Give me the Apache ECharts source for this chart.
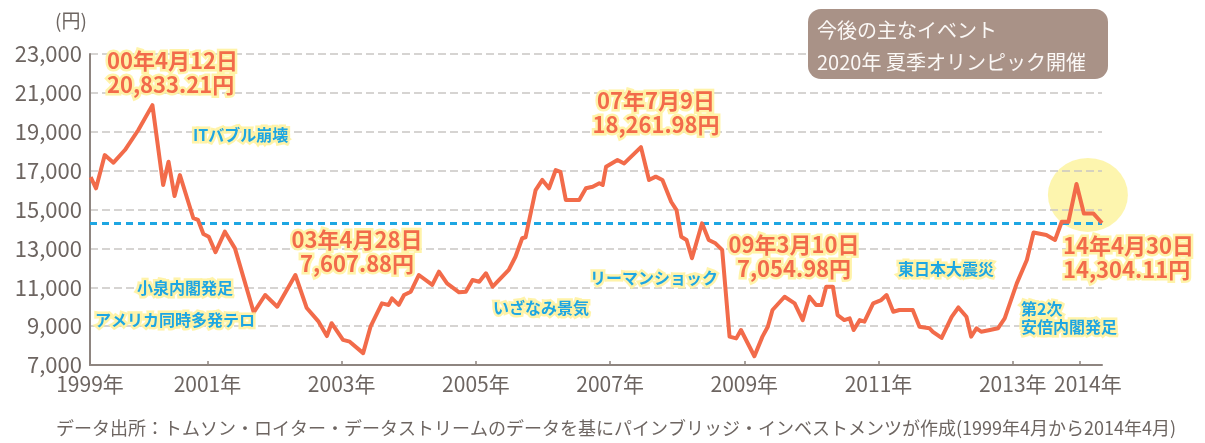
<!DOCTYPE html>
<html>
<head>
<meta charset="utf-8">
<script src="https://cdn.jsdelivr.net/npm/echarts@6/dist/echarts.min.js"></script>
<style>
  html, body { margin: 0; padding: 0; background: #fff; }
  #main { width: 1205px; height: 443px; }
</style>
</head>
<body>
<div id="main"></div>
<script>
// 日経平均の推移（1999年4月〜2014年4月）、年は小数で持つ
const dates = [
  1999.26, 1999.34, 1999.47, 1999.60, 1999.77, 1999.97, 2000.18, 2000.34, 2000.42, 2000.51,
  2000.59, 2000.79, 2000.86, 2000.94, 2001.02, 2001.12, 2001.26, 2001.41, 2001.69, 2001.86,
  2002.04, 2002.31, 2002.48, 2002.65, 2002.78, 2002.85, 2003.02, 2003.12, 2003.32, 2003.43,
  2003.60, 2003.70, 2003.75, 2003.85, 2003.93, 2004.03, 2004.15, 2004.35, 2004.45, 2004.57,
  2004.75, 2004.85, 2004.95, 2005.05, 2005.15, 2005.25, 2005.49, 2005.59, 2005.69, 2005.74,
  2005.89, 2005.99, 2006.09, 2006.19, 2006.26, 2006.34, 2006.54, 2006.64, 2006.74, 2006.84,
  2006.89, 2006.94, 2007.11, 2007.21, 2007.46, 2007.58, 2007.68, 2007.78, 2007.91, 2007.99,
  2008.06, 2008.14, 2008.22, 2008.37, 2008.47, 2008.57, 2008.67, 2008.78, 2008.88, 2008.95,
  2009.15, 2009.27, 2009.35, 2009.42, 2009.60, 2009.75, 2009.87, 2009.97, 2010.07, 2010.15,
  2010.22, 2010.32, 2010.39, 2010.49, 2010.57, 2010.63, 2010.72, 2010.79, 2010.92, 2011.04,
  2011.12, 2011.22, 2011.31, 2011.51, 2011.61, 2011.76, 2011.81, 2011.94, 2012.09, 2012.19,
  2012.31, 2012.38, 2012.46, 2012.53, 2012.66, 2012.78, 2012.88, 2013.06, 2013.21, 2013.31,
  2013.50, 2013.63, 2013.73, 2013.83, 2013.95, 2014.06, 2014.20, 2014.33
];
const prices = [
  16670, 16090, 17800, 17410, 18060, 19090, 20370, 16260, 17460, 15690,
  16770, 14550, 14460, 13740, 13600, 12800, 13860, 13000, 9700, 10600,
  10000, 11630, 9930, 9260, 8490, 9150, 8290, 8200, 7610, 8970,
  10170, 10090, 10430, 10090, 10600, 10770, 11630, 11120, 11800, 11200,
  10740, 10770, 11370, 11280, 11720, 11030, 11890, 12570, 13520, 13570,
  16000, 16520, 16090, 17030, 16940, 15490, 15490, 16090, 16170, 16350,
  16260, 17200, 17550, 17370, 18210, 16520, 16690, 16520, 15400, 14970,
  13600, 13430, 12490, 14290, 13430, 13260, 12920, 8460, 8370, 8800,
  7450, 8460, 8970, 9830, 10510, 10170, 9310, 10510, 10090, 10090,
  11030, 11030, 9570, 9310, 9400, 8800, 9310, 9230, 10170, 10340,
  10600, 9740, 9830, 9830, 8970, 8890, 8710, 8390, 9480, 9960,
  9480, 8460, 8890, 8710, 8800, 8890, 9400, 11200, 12400, 13820,
  13690, 13430, 14370, 14370, 16310, 14800, 14800, 14304.11
];
const currentLevel = 14304.11;
const highlight = [2014.12, 15750];
const yearTicks = [2001, 2003, 2005, 2007, 2009, 2011, 2013, 2014];
const yearLabels = [1999.25, 2001, 2003, 2005, 2007, 2009, 2011, 2013];
const lastYearLabel = [2014];

const FONT = '"Noto Sans CJK JP", "Noto Sans", sans-serif';
const ORANGE = '#f26b4a';
const BLUE = '#1ea6e2';
const GREY = '#6d6561';
const GLOW = 'rgba(255,242,160,0.9)';

var chart = echarts.init(document.getElementById('main'), null, { renderer: 'canvas' });

function note(x, y, text, color, size, align) {
  return {
    type: 'text', x: x, y: y, z: 20,
    style: {
      text: text, fill: color,
      font: 'bold ' + size + 'px ' + FONT,
      lineHeight: size + 2,
      align: align || 'left', textAlign: align || 'left',
      verticalAlign: 'middle', textVerticalAlign: 'middle',
      stroke: GLOW, lineWidth: 5
    }
  };
}

const yearFormatter = v => Math.floor(v) + '年';

var option = {
  backgroundColor: '#fff',
  animation: false,
  grid: { left: 90, right: 103, top: 54, bottom: 78, outerBoundsMode: 'none' },
  xAxis: [
    {
      type: 'value', min: 1999.25, max: 2014.33, z: 3, position: 'bottom',
      axisLine: { show: true, lineStyle: { color: '#8e8580', width: 2 } },
      axisTick: { show: true, inside: true, length: 4, customValues: yearTicks,
        lineStyle: { color: '#8e8580', width: 1.5 } },
      axisLabel: { customValues: yearLabels, color: GREY, fontSize: 21, fontFamily: FONT, margin: 9,
        hideOverlap: false, showMinLabel: true, formatter: yearFormatter },
      splitLine: { show: false }
    },
    {
      // 2014年だけ別軸で表示（2013年と近いため自動で隠されないように）
      type: 'value', min: 1999.25, max: 2014.33, position: 'bottom', offset: 0,
      axisLine: { show: false }, axisTick: { show: false }, splitLine: { show: false },
      axisLabel: { customValues: lastYearLabel, color: GREY, fontSize: 21, fontFamily: FONT, margin: 9,
        padding: [0, 0, 0, 16], showMaxLabel: true, formatter: yearFormatter }
    }
  ],
  yAxis: {
    type: 'value', min: 7000, max: 23000, interval: 2000, z: 3,
    axisLine: { show: true, lineStyle: { color: '#8e8580', width: 2 } },
    axisTick: { show: false },
    axisLabel: { color: GREY, fontSize: 22, fontFamily: FONT, margin: 8,
      formatter: v => v.toLocaleString('en-US') },
    splitLine: { show: true, lineStyle: { color: '#c9c6c4', width: 1.5, type: [8, 4] } }
  },
  series: [
    {
      type: 'scatter', z: 1, clip: false, silent: true,
      symbol: 'circle', symbolSize: [80, 74],
      itemStyle: { color: '#fcf29a' },
      data: [highlight]
    },
    {
      type: 'line', z: 5, showSymbol: false, smooth: false,
      lineStyle: { color: ORANGE, width: 4, join: 'round' },
      data: dates.map((d, i) => [d, prices[i]]),
      markLine: {
        silent: true, symbol: 'none', label: { show: false },
        lineStyle: { color: BLUE, width: 3, type: [7, 5] },
        data: [{ yAxis: currentLevel }]
      }
    }
  ],
  graphic: [
    { type: 'text', x: 55, y: 21, style: { text: '(円)', fill: GREY, font: '19px ' + FONT,
      verticalAlign: 'middle', textVerticalAlign: 'middle' } },
    { type: 'rect', z: 10, shape: { x: 808, y: 9, width: 300, height: 70, r: 13 },
      style: { fill: '#a99287' } },
    { type: 'text', z: 11, x: 817, y: 30, style: { text: '今後の主なイベント', fill: '#fbf8f6',
      font: '20px ' + FONT, verticalAlign: 'middle', textVerticalAlign: 'middle' } },
    { type: 'text', z: 11, x: 817, y: 62, style: { text: '2020年 夏季オリンピック開催', fill: '#fbf8f6',
      font: '20px ' + FONT, verticalAlign: 'middle', textVerticalAlign: 'middle' } },

    note(107, 73, '00年4月12日\n20,833.21円', ORANGE, 22),
    note(357, 252, '03年4月28日\n7,607.88円', ORANGE, 22, 'center'),
    note(656, 113, '07年7月9日\n18,261.98円', ORANGE, 22, 'center'),
    note(794, 257, '09年3月10日\n7,054.98円', ORANGE, 22, 'center'),
    note(1063, 258, '14年4月30日\n14,304.11円', ORANGE, 22),

    note(193, 135, 'ITバブル崩壊', BLUE, 16),
    note(137, 288, '小泉内閣発足', BLUE, 16),
    note(95, 320, 'アメリカ同時多発テロ', BLUE, 16),
    note(493, 308, 'いざなみ景気', BLUE, 16),
    note(590, 278, 'リーマンショック', BLUE, 16),
    note(898, 269, '東日本大震災', BLUE, 16),
    note(1021, 318, '第2次\n安倍内閣発足', BLUE, 16),

    { type: 'text', x: 56, y: 428, style: {
      text: 'データ出所：トムソン・ロイター・データストリームのデータを基にパインブリッジ・インベストメンツが作成(1999年4月から2014年4月)',
      fill: GREY, font: '18px ' + FONT, verticalAlign: 'middle', textVerticalAlign: 'middle' } }
  ]
};

chart.setOption(option);
</script>
</body>
</html>
